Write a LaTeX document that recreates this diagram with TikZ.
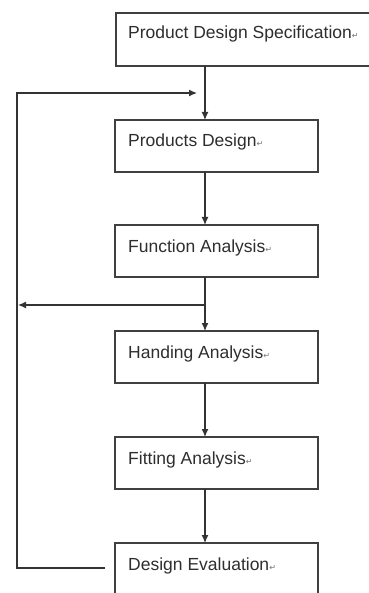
\documentclass[tikz,border=0pt]{standalone}
\usepackage{fontspec}
\setmainfont{Liberation Sans}
\newfontfamily\dejavu{DejaVu Sans}
\usetikzlibrary{arrows.meta}
\newcommand{\rmark}{{\dejavu\fontsize{8}{8}\selectfont\color{black!55}↵}}
\tikzset{
  flowbox/.style={draw=black!75, line width=1.3pt, rectangle, minimum width=203pt, minimum height=52pt, anchor=north west, inner sep=0pt, outer sep=0pt},
  lbl/.style={anchor=base west, inner sep=0pt, text=black!82, font=\fontsize{17.5}{20}\selectfont},
  conn/.style={draw=black!80, line width=1.2pt},
  arr/.style={conn, -{Latex[length=8pt,width=7pt]}}
}
\begin{document}
\begin{tikzpicture}[x=1pt,y=-1pt]
\useasboundingbox (0,0) rectangle (368,593);
\fill[white] (0,0) rectangle (368,593);
% boxes
\node[flowbox, minimum width=260pt, minimum height=53pt] (spec) at (116,13) {};
\node[flowbox] (pd) at (115,120) {};
\node[flowbox] (fa) at (115,225) {};
\node[flowbox] (ha) at (115,331) {};
\node[flowbox] (fit) at (115,437) {};
\node[flowbox, minimum height=60pt] (de) at (115,543) {};
% labels
\node[lbl] (spect) at (128,39) {Product Design Specification\rmark};
\node[lbl] (pdt) at (128,147) {Products Design\rmark};
\node[lbl] (fat) at (128,252) {Function Analysis\rmark};
\node[lbl] (hat) at (128,358) {Handing Analysis\rmark};
\node[lbl] (fitt) at (128,464) {Fitting Analysis\rmark};
\node[lbl] (det) at (128,570) {Design Evaluation\rmark};
% axis of arrows
\coordinate (ax) at (205,0);
\draw[arr] (ax |- spec.south) -- (ax |- pd.north);
\draw[arr] (ax |- pd.south) -- (ax |- fa.north);
\draw[arr] (ax |- fa.south) -- (ax |- ha.north);
\draw[arr] (ax |- ha.south) -- (ax |- fit.north);
\draw[arr] (ax |- fit.south) -- (ax |- de.north);
% branch to the left
\coordinate (br) at (205,305);
\coordinate (brend) at (18,305);
\draw[arr] (br) -- (brend);
% feedback loop
\coordinate (fbs) at (105,568);
\coordinate (fbc1) at (17,568);
\coordinate (fbc2) at (17,93);
\coordinate (fbe) at (197,93);
\draw[arr] (fbs) -- (fbc1) -- (fbc2) -- (fbe);
\end{tikzpicture}
\end{document}
